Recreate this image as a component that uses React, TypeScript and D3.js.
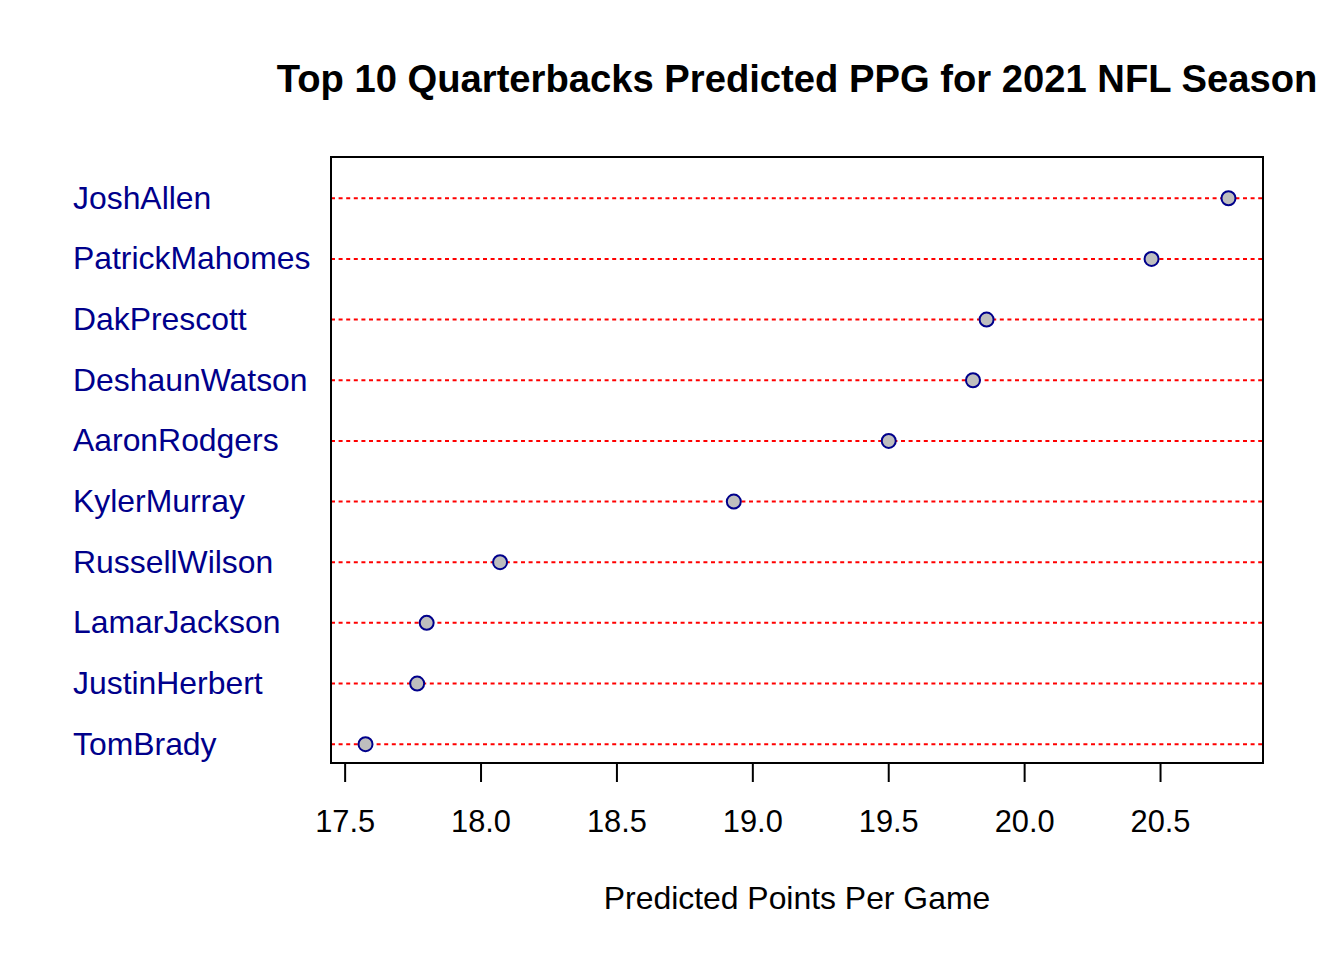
import React from 'react';
import * as d3 from 'd3';

// players listed top to bottom, as in the chart
const players = [
  'JoshAllen',
  'PatrickMahomes',
  'DakPrescott',
  'DeshaunWatson',
  'AaronRodgers',
  'KylerMurray',
  'RussellWilson',
  'LamarJackson',
  'JustinHerbert',
  'TomBrady',
];
const predictedPPG = [20.75, 20.467, 19.86, 19.81, 19.5, 18.93, 18.07, 17.8, 17.765, 17.575];
const xTicks = [17.5, 18.0, 18.5, 19.0, 19.5, 20.0, 20.5];

const title = 'Top 10 Quarterbacks Predicted PPG for 2021 NFL Season';
const xLabel = 'Predicted Points Per Game';

const W = 1344;
const H = 960;
const box = { left: 331, right: 1263, top: 157, bottom: 763 };
const font = '"Liberation Sans", Arial, Helvetica, sans-serif';

const App = () => {
  const lo = d3.min(predictedPPG) as number;
  const hi = d3.max(predictedPPG) as number;
  const pad = (hi - lo) * 0.04;
  const x = d3.scaleLinear().domain([lo - pad, hi + pad]).range([box.left, box.right]);

  // rank 1 = bottom row
  const n = players.length;
  const y = d3.scaleLinear().domain([0.69, 10.68]).range([box.bottom, box.top]);
  const rowY = (i: number) => y(n - i);

  const cx = (box.left + box.right) / 2;

  return (
    <svg width={W} height={H} style={{ position: 'absolute', left: 0, top: 0, background: '#fff' }}>
      <text x={cx} y={92} textAnchor="middle" fontFamily={font} fontWeight="bold" fontSize={38.2}>
        {title}
      </text>

      {players.map((p, i) => (
        <g key={p}>
          <line
            x1={box.left}
            x2={box.right}
            y1={rowY(i)}
            y2={rowY(i)}
            stroke="#ff0000"
            strokeWidth={2}
            strokeDasharray="4,3.6"
          />
          <text x={73} y={rowY(i) + 10.5} fontFamily={font} fontSize={31.9} fill="#00008b">
            {p}
          </text>
        </g>
      ))}

      {players.map((p, i) => (
        <circle
          key={p + '-pt'}
          cx={x(predictedPPG[i])}
          cy={rowY(i)}
          r={7}
          fill="#bebebe"
          stroke="#00008b"
          strokeWidth={2}
        />
      ))}

      <rect
        x={box.left}
        y={box.top}
        width={box.right - box.left}
        height={box.bottom - box.top}
        fill="none"
        stroke="#000"
        strokeWidth={2}
      />

      {xTicks.map((t) => (
        <g key={t}>
          <line x1={x(t)} x2={x(t)} y1={box.bottom} y2={box.bottom + 19} stroke="#000" strokeWidth={2} />
          <text x={x(t)} y={832} textAnchor="middle" fontFamily={font} fontSize={30.8}>
            {t.toFixed(1)}
          </text>
        </g>
      ))}

      <text x={cx} y={909} textAnchor="middle" fontFamily={font} fontSize={31.9}>
        {xLabel}
      </text>
    </svg>
  );
};

export default App;
